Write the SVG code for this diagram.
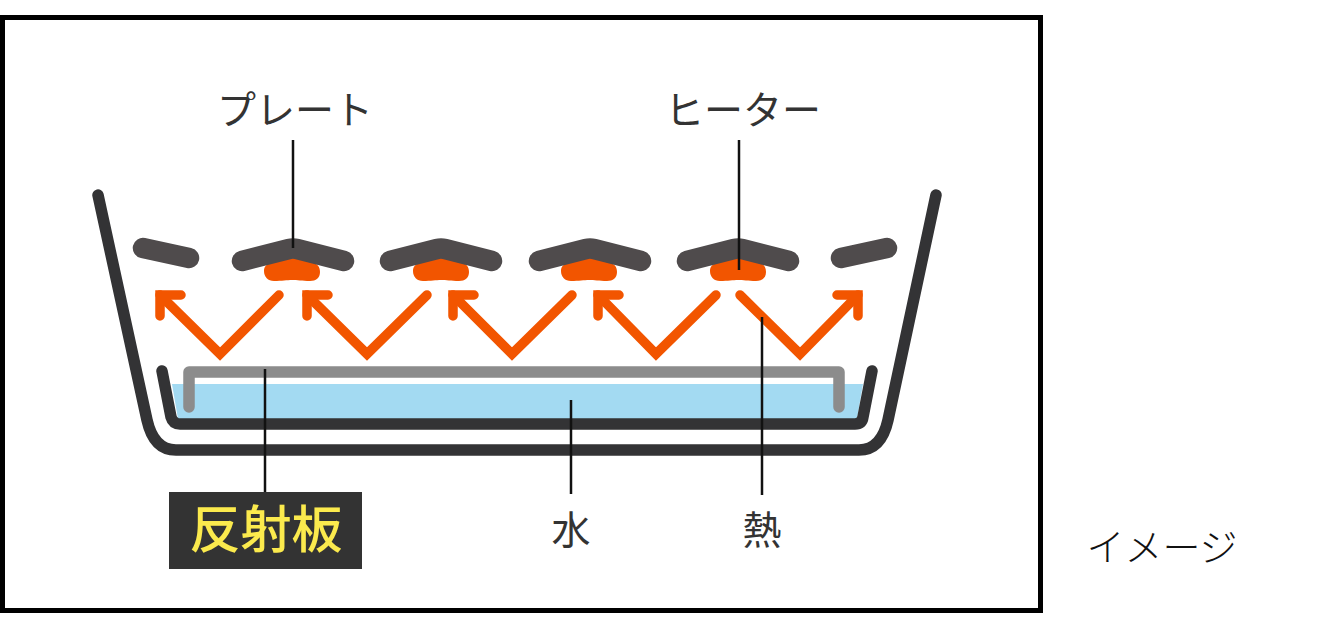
<svg xmlns="http://www.w3.org/2000/svg" width="1339" height="624" viewBox="0 0 1339 624">
<style>
.pot{fill:none;stroke:#333335;stroke-width:11.5;stroke-linecap:round;stroke-linejoin:round}
.plate{fill:none;stroke:#4f4b4c;stroke-width:20.5;stroke-linecap:round;stroke-linejoin:round}
.heat{fill:#f25500}
.arrow{fill:none;stroke:#f25500;stroke-width:9.5;stroke-linecap:round;stroke-linejoin:miter}
.lead{fill:none;stroke:#111;stroke-width:2.5}
.lbl{font-family:"Noto Sans CJK JP","Noto Sans",sans-serif;font-weight:400;fill:#333;font-size:39px;text-anchor:middle}
</style>
<defs>
<path id="hb" class="heat" d="M-28 10C-28 5-25 3-20 1L-10-6H10L20 1C25 3 28 5 28 11C28 17 24 20 18 20C10 20 5 19 0 19C-5 19-10 20-18 20C-24 20-28 16-28 10Z"/>
<path id="plate" class="plate" d="M-51 12L-4 0Q0-1 4 0L51 12"/>
</defs>
<rect width="1339" height="624" fill="#fff"/>
<g id="frame"><rect x="2.5" y="17.5" width="1038" height="593" fill="#fff" stroke="#000" stroke-width="5"/></g>
<g id="water"><path d="M172 384H863L857 419H178Z" fill="#a3daf2"/></g>
<g id="inner-pan"><path class="pot" d="M162 371L171 417Q173 424 180 424H855Q862 424 863 417L872 371"/></g>
<g id="outer-pan"><path class="pot" d="M98 195L147 420C151 438 160 450 176 450H859C875 450 884 438 888 420L936 195"/></g>
<g id="reflector"><path d="M189 407V372H839V407" fill="none" stroke="#8c8c8c" stroke-width="11.5" stroke-linecap="round" stroke-linejoin="round"/></g>
<g id="heaters">
<use href="#hb" x="292" y="261"/>
<use href="#hb" x="441" y="261"/>
<use href="#hb" x="589" y="261"/>
<use href="#hb" x="738" y="261"/>
</g>
<g id="plates">
<path class="plate" d="M143 248L189 258"/>
<use href="#plate" x="293" y="249"/>
<use href="#plate" x="441" y="249"/>
<use href="#plate" x="590" y="249"/>
<use href="#plate" x="738" y="249"/>
<path class="plate" d="M841 258L887 248"/>
</g>
<g id="heat-arrows">
<path class="arrow" d="M279 295L220 354L160 295"/><path class="arrow" stroke-linejoin="round" d="M181 295H160V316"/>
<path class="arrow" d="M427 295L367 354L307 295"/><path class="arrow" stroke-linejoin="round" d="M328 295H307V316"/>
<path class="arrow" d="M572 295L512 354L453 295"/><path class="arrow" stroke-linejoin="round" d="M474 295H453V316"/>
<path class="arrow" d="M716 295L656 354L598 295"/><path class="arrow" stroke-linejoin="round" d="M619 295H598V316"/>
<path class="arrow" d="M740 295L800 354L858 295"/><path class="arrow" stroke-linejoin="round" d="M837 295H858V316"/>
</g>
<g id="connectors">
<path class="lead" d="M293 140V248"/>
<path class="lead" d="M739 140V270"/>
<path class="lead" d="M265 369V492"/>
<path class="lead" d="M571 400V494"/>
<path class="lead" d="M762 317V495"/>
</g>
<g id="label-plate"><text class="lbl" x="295" y="124">プレート</text></g>
<g id="label-heater"><text class="lbl" x="743" y="124">ヒーター</text></g>
<g id="label-reflector"><rect x="169" y="492" width="193" height="77" fill="#333"/><text x="266" y="548" font-family="Noto Sans CJK JP,sans-serif" font-weight="500" font-size="51" fill="#fbea4d" text-anchor="middle">反射板</text></g>
<g id="label-water"><text class="lbl" x="571" y="544">水</text></g>
<g id="label-heat"><text class="lbl" x="762" y="544">熱</text></g>
<g id="caption"><text x="1162" y="561" font-family="Noto Sans CJK JP,sans-serif" font-weight="300" font-size="38" fill="#111" text-anchor="middle">イメージ</text></g>
</svg>
